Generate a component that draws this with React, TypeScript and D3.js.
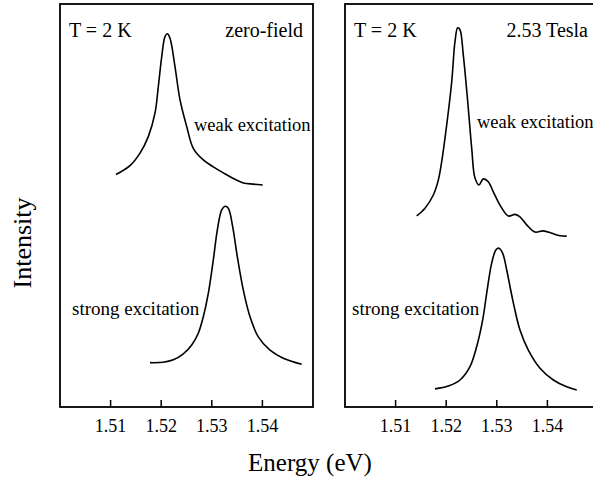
import { useRef, useEffect } from 'react'
import * as d3 from 'd3'

// Photoluminescence spectra at T = 2 K, energy (eV) vs intensity (arb. units, 0-100)
const energyTicks = [1.51, 1.52, 1.53, 1.54]
const energyDomain: [number, number] = [1.5, 1.55]
const intensityDomain: [number, number] = [0, 100]

const zeroFieldWeak: [number, number][] = [
  [1.51107, 57.7], [1.51383, 59.9], [1.51581, 63.0], [1.51745, 67.1], [1.51877, 72.9],
  [1.51943, 79.5], [1.5201, 86.9], [1.52075, 91.9], [1.52121, 92.6], [1.52174, 91.5],
  [1.52273, 84.4], [1.52372, 76.2], [1.52504, 69.6], [1.52634, 64.2], [1.52832, 61.3],
  [1.5303, 59.6], [1.53227, 58.1], [1.53425, 56.7], [1.53623, 55.6], [1.5382, 55.3],
  [1.54006, 55.1],
]

const zeroFieldStrong: [number, number][] = [
  [1.51779, 11.0], [1.52042, 11.1], [1.52239, 11.7], [1.52437, 13.2], [1.52603, 15.4],
  [1.52733, 18.3], [1.52832, 22.4], [1.52931, 28.2], [1.5303, 36.5], [1.53109, 43.9],
  [1.53196, 48.9], [1.53261, 49.8], [1.53326, 49.3], [1.53413, 44.7], [1.53504, 37.3],
  [1.53623, 29.0], [1.53755, 22.4], [1.53919, 17.4], [1.5415, 14.1], [1.54413, 12.1],
  [1.54777, 10.6],
]

const teslaWeak: [number, number][] = [
  [1.51417, 47.4], [1.51581, 49.3], [1.51745, 52.6], [1.51844, 56.3], [1.51911, 60.9],
  [1.5201, 70.0], [1.52109, 80.7], [1.52174, 90.7], [1.52227, 94.1], [1.52273, 93.6],
  [1.52338, 87.3], [1.52425, 75.8], [1.52504, 64.2], [1.52569, 56.8], [1.52648, 55.1],
  [1.52733, 56.6], [1.52832, 55.9], [1.52931, 53.4], [1.53063, 50.1], [1.53227, 47.4],
  [1.5336, 47.8], [1.53458, 47.2], [1.53591, 45.2], [1.53755, 43.4], [1.53919, 43.7],
  [1.54085, 43.1], [1.54249, 42.5], [1.54381, 42.4],
]

const teslaStrong: [number, number][] = [
  [1.51779, 4.5], [1.52042, 5.2], [1.52273, 6.7], [1.5247, 10.0], [1.52603, 15.0],
  [1.52721, 21.6], [1.528, 28.2], [1.52899, 35.7], [1.52984, 39.0], [1.53043, 39.4],
  [1.53117, 38.1], [1.53196, 34.0], [1.53314, 26.6], [1.53458, 19.1], [1.53623, 14.1],
  [1.53854, 9.6], [1.54117, 6.7], [1.54381, 5.0], [1.54579, 4.2],
]

const panelLabels = ['zero-field', '2.53 Tesla']

export default function App() {
  const svgRef = useRef<SVGSVGElement>(null)

  useEffect(() => {
    if (!svgRef.current) return
    const svg = d3.select(svgRef.current)
    svg.selectAll('*').remove()

    const font = "'Liberation Serif', 'Times New Roman', serif"
    const top = 4
    const bottom = 407
    const panelWidth = 253

    const panels = [
      { left: 60, weak: zeroFieldWeak, strong: zeroFieldStrong, label: panelLabels[0], weakLabel: [194, 131], strongLabel: [72, 315] },
      { left: 345, weak: teslaWeak, strong: teslaStrong, label: panelLabels[1], weakLabel: [477, 128], strongLabel: [352, 315] },
    ]

    const y = d3.scaleLinear().domain(intensityDomain).range([bottom, top])

    panels.forEach(p => {
      const x = d3.scaleLinear().domain(energyDomain).range([p.left, p.left + panelWidth])
      const g = svg.append('g')

      g.append('rect')
        .attr('x', p.left)
        .attr('y', top)
        .attr('width', panelWidth)
        .attr('height', bottom - top)
        .attr('fill', 'none')
        .attr('stroke', '#000')
        .attr('stroke-width', 1.8)

      // ticks point inward from the bottom edge
      g.selectAll('.tick')
        .data(energyTicks)
        .enter()
        .append('line')
        .attr('x1', d => x(d))
        .attr('x2', d => x(d))
        .attr('y1', bottom)
        .attr('y2', bottom - 7)
        .attr('stroke', '#000')
        .attr('stroke-width', 1.5)

      g.selectAll('.tick-label')
        .data(energyTicks)
        .enter()
        .append('text')
        .attr('x', d => x(d))
        .attr('y', 432)
        .attr('text-anchor', 'middle')
        .attr('font-family', font)
        .attr('font-size', 18)
        .text(d => d.toFixed(2))

      const line = d3.line<[number, number]>()
        .x(d => x(d[0]))
        .y(d => y(d[1]))
        .curve(d3.curveCatmullRom.alpha(0.5))

      ;[p.weak, p.strong].forEach(series => {
        g.append('path')
          .attr('d', line(series))
          .attr('fill', 'none')
          .attr('stroke', '#000')
          .attr('stroke-width', 1.6)
      })

      g.append('text')
        .attr('x', p.left + 9)
        .attr('y', 37)
        .attr('font-family', font)
        .attr('font-size', 20)
        .text('T = 2 K')

      g.append('text')
        .attr('x', p.left === 60 ? 303 : 588)
        .attr('y', 37)
        .attr('text-anchor', 'end')
        .attr('font-family', font)
        .attr('font-size', 20)
        .text(p.label)

      g.append('text')
        .attr('x', p.weakLabel[0])
        .attr('y', p.weakLabel[1])
        .attr('font-family', font)
        .attr('font-size', 18.5)
        .text('weak excitation')

      g.append('text')
        .attr('x', p.strongLabel[0])
        .attr('y', p.strongLabel[1])
        .attr('font-family', font)
        .attr('font-size', 19)
        .text('strong excitation')
    })

    svg.append('text')
      .attr('x', 310)
      .attr('y', 471)
      .attr('text-anchor', 'middle')
      .attr('font-family', font)
      .attr('font-size', 25)
      .text('Energy (eV)')

    svg.append('text')
      .attr('transform', 'translate(31,243) rotate(-90)')
      .attr('text-anchor', 'middle')
      .attr('font-family', font)
      .attr('font-size', 26)
      .text('Intensity')
  }, [])

  return (
    <svg
      ref={svgRef}
      width={593}
      height={481}
      style={{ position: 'absolute', left: 0, top: 0, background: '#fff' }}
    />
  )
}
